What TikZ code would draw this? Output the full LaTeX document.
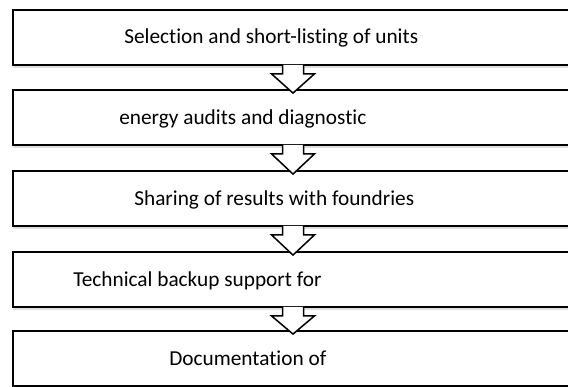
\documentclass[tikz,border=0pt]{standalone}
\usepackage{fontspec}
\setmainfont{Carlito}[RawFeature=-liga]
\usetikzlibrary{shadows,calc}

\begin{document}
\begin{tikzpicture}[x=1pt, y=1pt,
  stage/.style={draw, line width=1.8pt, fill=white, minimum width=560pt, minimum height=55pt, inner sep=0pt,
    drop shadow={shadow xshift=0pt, shadow yshift=-3pt, opacity=0.25}},
  stagetext/.style={font=\fontsize{21.3}{26}\selectfont, inner sep=0pt, text height=13.5pt, text depth=0pt, anchor=west},
  flowarrow/.style={fill=white, line width=1.5pt, line join=miter}]
\useasboundingbox (0,0) rectangle (568,387);
% stage blocks
\node[stage] (sel) at (293,349.5) {};
\node[stage] (aud) at (293,269.5) {};
\node[stage] (sha) at (293,188.5) {};
\node[stage] (tec) at (293,107.5) {};
\node[stage] (doc) at (293,28.5) {};
% labels
\node[stagetext] (selt) at ([xshift=112pt,yshift=1pt]sel.west) {Selection and short-listing of units};
\node[stagetext] (audt) at ([xshift=107pt]aud.west) {energy audits and diagnostic};
\node[stagetext] (shat) at ([xshift=122pt]sha.west) {Sharing of results with foundries};
\node[stagetext] (tect) at ([xshift=61pt]tec.west) {Technical backup support for};
\node[stagetext] (doct) at ([xshift=157pt]doc.west) {Documentation of};
% block arrows between stages
\foreach \a/\b in {sel/aud, aud/sha, sha/tec, tec/doc}
  \filldraw[flowarrow] ($(\a.south)+(-10.5,1)$) -- ++(0,-9) -- ++(-11,0)
    -- ($(\b.north)+(0,-4)$) -- ($(\a.south)+(21.5,-8)$) -- ++(-11,0) -- ++(0,9);
\end{tikzpicture}
\end{document}
